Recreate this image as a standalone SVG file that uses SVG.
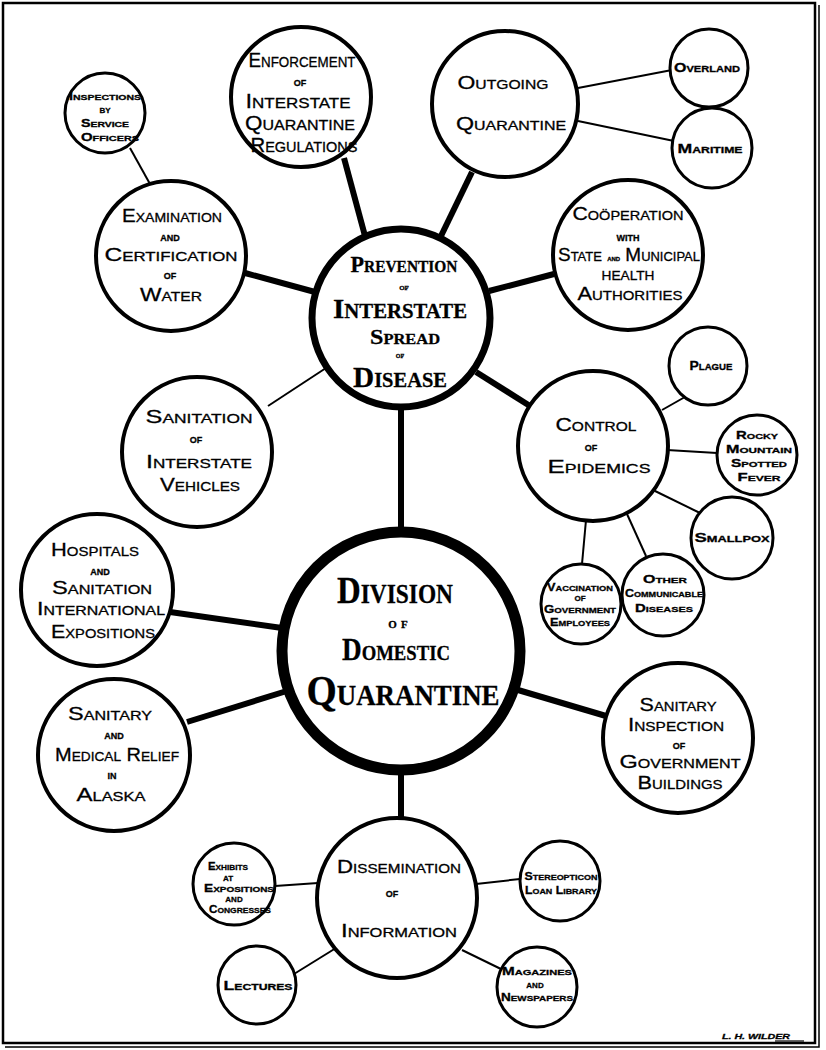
<svg xmlns="http://www.w3.org/2000/svg" width="826" height="1050" viewBox="0 0 826 1050">
<style>
.n{fill:#fff;stroke:#000;stroke-width:4}
.s{fill:#fff;stroke:#000;stroke-width:3}
.k{stroke:#000;stroke-width:6}
.t{stroke:#000;stroke-width:2}
text{font-family:"Liberation Sans",Arial,sans-serif;font-variant:small-caps;text-anchor:middle;fill:#000;stroke:#000;stroke-width:0.3}
.m{font-size:19px}
.e{font-size:21px}
.mo{font-size:13px;font-weight:bold}
.sm{font-size:13px;font-weight:bold}
.so{font-size:11px;font-weight:bold}
.sv{font-family:"Liberation Serif","Times New Roman",serif;font-weight:bold}
</style>
<rect x="3" y="3" width="812" height="1040" fill="#fff" stroke="#000" stroke-width="2.5"/>
<polyline points="819,5 819,1047 5,1047" fill="none" stroke="#000" stroke-width="1.5"/>
<g id="connectors">
<line class="k" x1="344" y1="158" x2="365" y2="236"/>
<line class="k" x1="472" y1="172" x2="441" y2="236"/>
<line class="t" x1="578" y1="88" x2="672" y2="70"/>
<line class="t" x1="578" y1="121" x2="674" y2="141"/>
<line class="k" x1="489" y1="291" x2="554" y2="274"/>
<line class="k" x1="245" y1="273" x2="315" y2="292"/>
<line class="t" x1="130" y1="148" x2="150" y2="184"/>
<line class="t" x1="268" y1="406" x2="326" y2="368"/>
<line class="k" x1="476" y1="372" x2="530" y2="406"/>
<line class="k" x1="401" y1="406" x2="401" y2="531"/>
<line class="t" x1="662" y1="410" x2="692" y2="393"/>
<line class="t" x1="667" y1="450" x2="717" y2="453"/>
<line class="t" x1="653" y1="490" x2="700" y2="513"/>
<line class="t" x1="627" y1="514" x2="646" y2="556"/>
<line class="t" x1="586" y1="520" x2="582" y2="564"/>
<line class="k" x1="170" y1="612" x2="282" y2="628"/>
<line class="k" x1="187" y1="722" x2="290" y2="690"/>
<line class="k" x1="518" y1="690" x2="606" y2="716"/>
<line class="k" x1="401" y1="771" x2="401" y2="820"/>
<line class="t" x1="275" y1="886" x2="318" y2="883"/>
<line class="t" x1="476" y1="884" x2="520" y2="879"/>
<line class="t" x1="294" y1="974" x2="336" y2="948"/>
<line class="t" x1="462" y1="950" x2="503" y2="970"/>
</g>
<g id="prevention">
<circle cx="401" cy="318" r="89" fill="#fff" stroke="#000" stroke-width="7"/>
<text class="sv" x="404" y="272" font-size="23" textLength="107" lengthAdjust="spacingAndGlyphs">Prevention</text>
<text class="sv" x="404" y="290" font-size="10">of</text>
<text class="sv" x="400" y="318" font-size="28" textLength="134" lengthAdjust="spacingAndGlyphs">Interstate</text>
<text class="sv" x="405" y="344" font-size="22" textLength="70" lengthAdjust="spacingAndGlyphs">Spread</text>
<text class="sv" x="400" y="358" font-size="9">of</text>
<text class="sv" x="400" y="387" font-size="30" textLength="94" lengthAdjust="spacingAndGlyphs">Disease</text>
</g>
<g id="division">
<circle cx="401" cy="651" r="119" fill="#fff" stroke="#000" stroke-width="11"/>
<text class="sv" x="395" y="603" font-size="38" textLength="116" lengthAdjust="spacingAndGlyphs">Division</text>
<text class="sv" x="400" y="628" font-size="15" letter-spacing="4">of</text>
<text class="sv" x="396" y="660" font-size="32" textLength="108" lengthAdjust="spacingAndGlyphs">Domestic</text>
<text class="sv" x="403" y="705" font-size="42" textLength="193" lengthAdjust="spacingAndGlyphs">Quarantine</text>
</g>
<g id="enforcement">
<circle class="n" cx="301" cy="97" r="70"/>
<text class="e" x="302" y="67" textLength="107" lengthAdjust="spacingAndGlyphs">Enforcement</text>
<text class="mo" x="300" y="86">of</text>
<text class="e" x="298" y="108" textLength="105" lengthAdjust="spacingAndGlyphs">Interstate</text>
<text class="e" x="300" y="130" textLength="110" lengthAdjust="spacingAndGlyphs">Quarantine</text>
<text class="e" x="304" y="152" textLength="107" lengthAdjust="spacingAndGlyphs">Regulations</text>
</g>
<g id="outgoing">
<circle class="n" cx="505" cy="104" r="73"/>
<text class="m" x="503" y="89" textLength="91" lengthAdjust="spacingAndGlyphs">Outgoing</text>
<text class="m" x="511" y="130" textLength="110" lengthAdjust="spacingAndGlyphs">Quarantine</text>
</g>
<g id="overland">
<circle class="s" cx="709" cy="68" r="39"/>
<text class="sm" x="707" y="72" textLength="66" lengthAdjust="spacingAndGlyphs">Overland</text>
</g>
<g id="maritime">
<circle class="s" cx="712" cy="148" r="40"/>
<text class="sm" x="710" y="153" textLength="65" lengthAdjust="spacingAndGlyphs">Maritime</text>
</g>
<g id="cooperation">
<circle class="n" cx="628" cy="255" r="75"/>
<text class="m" x="628" y="220" font-size="15" textLength="111" lengthAdjust="spacingAndGlyphs">Coöperation</text>
<text class="mo" x="628" y="241" font-size="11">with</text>
<text class="m" x="629" y="261" font-size="15" textLength="142" lengthAdjust="spacingAndGlyphs">State <tspan font-size="9" font-weight="bold">and</tspan> Municipal</text>
<text class="m" x="628" y="280" font-size="14" textLength="53" lengthAdjust="spacingAndGlyphs">health</text>
<text class="m" x="630" y="300" font-size="15" textLength="105" lengthAdjust="spacingAndGlyphs">Authorities</text>
</g>
<g id="inspection">
<circle class="s" cx="105" cy="113" r="40"/>
<text class="so" x="105" y="100" font-size="10" textLength="72" lengthAdjust="spacingAndGlyphs">Inspections</text>
<text class="so" x="105" y="113" font-size="8">by</text>
<text class="so" x="105" y="127" font-size="10" textLength="48" lengthAdjust="spacingAndGlyphs">Service</text>
<text class="so" x="110" y="141" font-size="10" textLength="58" lengthAdjust="spacingAndGlyphs">Officers</text>
</g>
<g id="examination">
<circle class="n" cx="171" cy="256" r="75"/>
<text class="m" x="172" y="222" textLength="100" lengthAdjust="spacingAndGlyphs">Examination</text>
<text class="mo" x="170" y="241">and</text>
<text class="m" x="171" y="261" textLength="133" lengthAdjust="spacingAndGlyphs">Certification</text>
<text class="mo" x="170" y="279">of</text>
<text class="m" x="171" y="301" textLength="62" lengthAdjust="spacingAndGlyphs">Water</text>
</g>
<g id="sanitation">
<circle class="n" cx="197" cy="452" r="75"/>
<text class="m" x="199" y="423" textLength="107" lengthAdjust="spacingAndGlyphs">Sanitation</text>
<text class="mo" x="196" y="443">of</text>
<text class="m" x="199" y="468" textLength="106" lengthAdjust="spacingAndGlyphs">Interstate</text>
<text class="m" x="200" y="491" textLength="80" lengthAdjust="spacingAndGlyphs">Vehicles</text>
</g>
<g id="control">
<circle class="n" cx="593" cy="446" r="75"/>
<text class="m" x="596" y="431" textLength="81" lengthAdjust="spacingAndGlyphs">Control</text>
<text class="mo" x="591" y="451">of</text>
<text class="m" x="599" y="473" textLength="103" lengthAdjust="spacingAndGlyphs">Epidemics</text>
</g>
<g id="plague">
<circle class="s" cx="708" cy="366" r="39"/>
<text class="sm" x="711" y="370" font-size="11" textLength="43" lengthAdjust="spacingAndGlyphs">Plague</text>
</g>
<g id="rocky">
<circle class="s" cx="757" cy="455" r="40"/>
<text class="so" x="757" y="439" font-size="10" textLength="42" lengthAdjust="spacingAndGlyphs">Rocky</text>
<text class="so" x="759" y="453" font-size="10" textLength="66" lengthAdjust="spacingAndGlyphs">Mountain</text>
<text class="so" x="759" y="467" font-size="10" textLength="56" lengthAdjust="spacingAndGlyphs">Spotted</text>
<text class="so" x="759" y="481" font-size="10" textLength="43" lengthAdjust="spacingAndGlyphs">Fever</text>
</g>
<g id="smallpox">
<circle class="s" cx="732" cy="538" r="41"/>
<text class="sm" x="732" y="542" textLength="75" lengthAdjust="spacingAndGlyphs">Smallpox</text>
</g>
<g id="other">
<circle class="s" cx="663" cy="595" r="41"/>
<text class="so" x="665" y="583" textLength="44" lengthAdjust="spacingAndGlyphs">Other</text>
<text class="so" x="664" y="597" font-size="8" textLength="78" lengthAdjust="spacingAndGlyphs">Communicable</text>
<text class="so" x="664" y="612" textLength="58" lengthAdjust="spacingAndGlyphs">Diseases</text>
</g>
<g id="vaccination">
<circle class="s" cx="581" cy="604" r="40"/>
<text class="so" x="580" y="591" font-size="8" textLength="66" lengthAdjust="spacingAndGlyphs">Vaccination</text>
<text class="so" x="580" y="601" font-size="6">of</text>
<text class="so" x="580" y="613" font-size="8" textLength="72" lengthAdjust="spacingAndGlyphs">Government</text>
<text class="so" x="580" y="626" font-size="8" textLength="60" lengthAdjust="spacingAndGlyphs">Employees</text>
</g>
<g id="hospitals">
<circle class="n" cx="97" cy="590" r="76"/>
<text class="m" x="95" y="556" font-size="17" textLength="88" lengthAdjust="spacingAndGlyphs">Hospitals</text>
<text class="mo" x="100" y="575">and</text>
<text class="m" x="102" y="594" font-size="17" textLength="100" lengthAdjust="spacingAndGlyphs">Sanitation</text>
<text class="m" x="101" y="615" font-size="17" textLength="128" lengthAdjust="spacingAndGlyphs">International</text>
<text class="m" x="103" y="638" font-size="17" textLength="104" lengthAdjust="spacingAndGlyphs">Expositions</text>
</g>
<g id="alaska">
<circle class="n" cx="114" cy="755" r="76"/>
<text class="m" x="110" y="720" font-size="17" textLength="84" lengthAdjust="spacingAndGlyphs">Sanitary</text>
<text class="mo" x="114" y="739">and</text>
<text class="m" x="117" y="761" font-size="17" textLength="124" lengthAdjust="spacingAndGlyphs">Medical Relief</text>
<text class="mo" x="112" y="779" font-size="10">in</text>
<text class="m" x="111" y="801" font-size="17" textLength="69" lengthAdjust="spacingAndGlyphs">Alaska</text>
</g>
<g id="buildings">
<circle class="n" cx="678" cy="738" r="75"/>
<text class="m" x="678" y="711" font-size="17" textLength="77" lengthAdjust="spacingAndGlyphs">Sanitary</text>
<text class="m" x="676" y="731" font-size="17" textLength="96" lengthAdjust="spacingAndGlyphs">Inspection</text>
<text class="mo" x="679" y="749">of</text>
<text class="m" x="680" y="768" textLength="121" lengthAdjust="spacingAndGlyphs">Government</text>
<text class="m" x="680" y="789" textLength="85" lengthAdjust="spacingAndGlyphs">Buildings</text>
</g>
<g id="dissemination">
<circle class="n" cx="397" cy="898" r="80"/>
<text class="m" x="399" y="873" font-size="17" textLength="124" lengthAdjust="spacingAndGlyphs">Dissemination</text>
<text class="mo" x="392" y="897">of</text>
<text class="m" x="399" y="937" font-size="17" textLength="116" lengthAdjust="spacingAndGlyphs">Information</text>
</g>
<g id="exhibits">
<circle class="s" cx="234" cy="884" r="41"/>
<text class="so" x="228" y="870" font-size="9" textLength="40" lengthAdjust="spacingAndGlyphs">Exhibits</text>
<text class="so" x="228" y="881" font-size="6">at</text>
<text class="so" x="239" y="892" font-size="9" textLength="70" lengthAdjust="spacingAndGlyphs">Expositions</text>
<text class="so" x="234" y="902" font-size="6">and</text>
<text class="so" x="240" y="913" font-size="8" textLength="62" lengthAdjust="spacingAndGlyphs">Congresses</text>
</g>
<g id="stereopticon">
<circle class="s" cx="560" cy="881" r="40"/>
<text class="so" x="561" y="880" font-size="9" textLength="73" lengthAdjust="spacingAndGlyphs">Stereopticon</text>
<text class="so" x="561" y="894" font-size="9" textLength="72" lengthAdjust="spacingAndGlyphs">Loan Library</text>
</g>
<g id="lectures">
<circle class="s" cx="257" cy="985" r="39"/>
<text class="sm" x="258" y="990" font-size="12" textLength="69" lengthAdjust="spacingAndGlyphs">Lectures</text>
</g>
<g id="magazines">
<circle class="s" cx="537" cy="987" r="40"/>
<text class="so" x="537" y="975" font-size="10" textLength="70" lengthAdjust="spacingAndGlyphs">Magazines</text>
<text class="so" x="535" y="988" font-size="6">and</text>
<text class="so" x="537" y="1001" font-size="9" textLength="72" lengthAdjust="spacingAndGlyphs">Newspapers</text>
</g>
<g id="signature">
<text x="756" y="1039" font-size="8" font-weight="bold" font-style="italic" font-variant="normal" stroke-width="0" textLength="68" lengthAdjust="spacingAndGlyphs">L. H. WILDER</text>
<line x1="775" y1="1041" x2="804" y2="1041" stroke="#000" stroke-width="1.2"/>
</g>
</svg>
